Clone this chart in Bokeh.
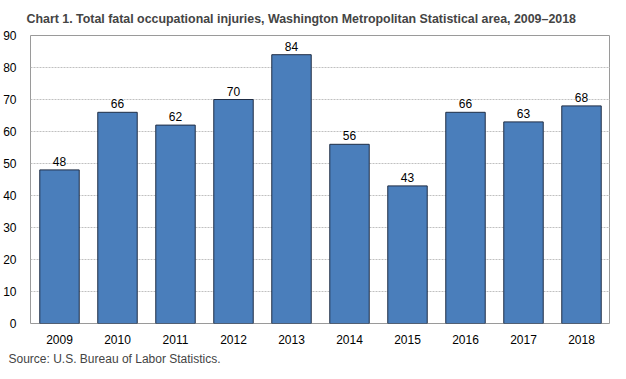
from bokeh.plotting import figure
from bokeh.models import ColumnDataSource, LabelSet, Title, FixedTicker
from bokeh.core.properties import value
from bokeh.embed import file_html
from bokeh.resources import INLINE

years = ["2009", "2010", "2011", "2012", "2013", "2014", "2015", "2016", "2017", "2018"]
injuries = [48, 66, 62, 70, 84, 56, 43, 66, 63, 68]
y_ticks = [0, 10, 20, 30, 40, 50, 60, 70, 80, 90]

src = ColumnDataSource(dict(x=years, top=injuries, lab=[str(v) for v in injuries]))

p = figure(x_range=years, y_range=(0, 90), width=610, height=368,
           output_backend="svg", toolbar_location=None,
           min_border_left=26, min_border_right=0, min_border_top=0, min_border_bottom=0)

p.title.text = "Chart 1. Total fatal occupational injuries, Washington Metropolitan Statistical area, 2009\u20132018"
p.title.text_font = "Liberation Sans"
p.title.text_font_size = "12.4px"
p.title.text_font_style = "bold"
p.title.offset = -4
p.title.standoff = 19

p.vbar(x="x", top="top", width=0.68, source=src, fill_color="#4a7ebb",
       line_color="#1f2d45", line_width=1)

labels = LabelSet(x="x", y="top", text="lab", source=src, text_align="center",
                  text_baseline="bottom", y_offset=4, text_font=value("Liberation Sans"),
                  text_font_size=value("12px"), text_color="#000000",
                  background_fill_color="white", border_line_color=None)
p.add_layout(labels)

p.outline_line_color = "#9a9a9a"
p.outline_line_width = 1
p.xgrid.grid_line_color = None
p.ygrid.grid_line_color = "#c0c0c0"
p.ygrid.grid_line_dash = "2 1"
p.yaxis.ticker = FixedTicker(ticks=y_ticks)
for ax in (p.xaxis, p.yaxis):
    ax.axis_line_color = None
    ax.major_tick_line_color = None
    ax.minor_tick_line_color = None
    ax.major_label_text_font = "Liberation Sans"
    ax.major_label_text_font_size = "12px"
    ax.major_label_text_color = "#000000"
p.xaxis.major_label_standoff = 5
p.yaxis.major_label_standoff = 8
p.x_range.range_padding = 0.0

src_title = Title(text="Source: U.S. Bureau of Labor Statistics.", align="left",
                  text_font="Liberation Sans", text_font_size="12px",
                  text_font_style="normal", offset=-22, standoff=6)
p.add_layout(src_title, "below")

open("out.html", "w").write(file_html(p, INLINE))
